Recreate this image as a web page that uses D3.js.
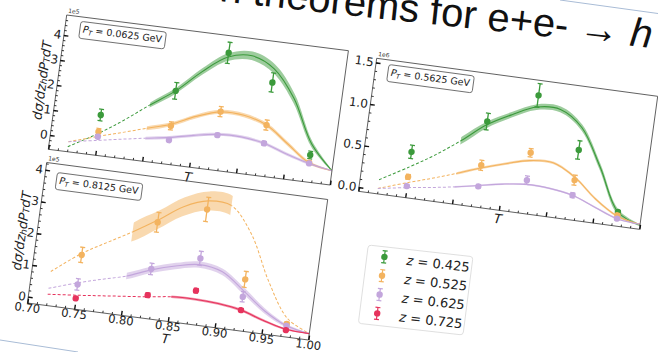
<!DOCTYPE html>
<html><head><meta charset="utf-8">
<script src="https://cdn.jsdelivr.net/npm/d3@7"></script>
<style>
html,body{margin:0;padding:0;background:#fff;overflow:hidden;}
svg{display:block;}
</style></head><body>
<svg id="c" width="658" height="352"></svg>
<script>
// T bin centres of the measured points
const binT = [0.75, 0.825, 0.875, 0.925, 0.975];
// T grid on which the fitted curves are tabulated
const curveT = [0.72, 0.75, 0.775, 0.80, 0.825, 0.85, 0.875, 0.90, 0.925, 0.95, 0.975, 1.00];
const xTicks = [0.70, 0.75, 0.80, 0.85, 0.90, 0.95, 1.00];
const zLabels = ["0.425", "0.525", "0.625", "0.725"];
const ptLabels = ["0.0625", "0.5625", "0.8125"];

// ---- P_T = 0.0625 GeV (units of 1e5)
const a_greenPts = [1.04, 2.36, 4.12, 3.17, 0.51];
const a_greenErr = [0.23, 0.33, 0.42, 0.38, 0.15];
const a_orangePts = [0.37, 0.96, 1.77, 1.47, 0.20];
const a_orangeErr = [0.13, 0.16, 0.20, 0.20, 0.06];
const a_purplePts = [0.17, 0.39, 0.83, 0.74, 0.175];
const a_purpleErr = [0.06, 0.06, 0.07, 0.08, 0.05];
const a_greenFit = [-0.37, 0.30, 0.95, 1.68, 2.36, 3.25, 3.95, 4.12, 3.72, 2.65, 0.95, 0.0];
const a_greenBand = [0, 0, 0, 0.10, 0.12, 0.14, 0.16, 0.17, 0.18, 0.18, 0.12, 0.03];
const a_orangeFit = [-0.17, 0.18, 0.46, 0.745, 1.03, 1.46, 1.76, 1.74, 1.47, 0.83, 0.20, 0.0];
const a_orangeBand = [0, 0, 0, 0.08, 0.08, 0.08, 0.08, 0.08, 0.08, 0.08, 0.06, 0.02];
const a_purpleFit = [-0.17, 0.025, 0.19, 0.35, 0.50, 0.70, 0.86, 0.88, 0.74, 0.43, 0.17, 0.0];
const a_purpleBand = [0, 0, 0, 0.06, 0.06, 0.06, 0.06, 0.06, 0.06, 0.06, 0.05, 0.02];

// ---- P_T = 0.5625 GeV (units of 1e6)
const b_greenPts = [0.50, 0.98, 1.37, 0.79, 0.12];
const b_greenErr = [0.08, 0.10, 0.14, 0.11, 0.02];
const b_orangePts = [0.20, 0.454, 0.68, 0.427, 0.08];
const b_orangeErr = [0.03, 0.06, 0.05, 0.06, 0.02];
const b_purplePts = [0.089, 0.20, 0.35, 0.246, 0.04];
const b_purpleErr = [0.015, 0.02, 0.05, 0.03, 0.015];
const b_greenFit = [0.12, 0.32, 0.50, 0.71, 0.94, 1.10, 1.23, 1.24, 1.06, 0.62, 0.12, 0.0];
const b_greenBand = [0, 0, 0, 0.045, 0.04, 0.035, 0.035, 0.035, 0.035, 0.035, 0.03, 0.01];
const b_orangeFit = [0.015, 0.13, 0.22, 0.317, 0.42, 0.51, 0.586, 0.597, 0.46, 0.235, 0.07, 0.01];
const b_orangeBand = [0, 0, 0, 0.015, 0.015, 0.015, 0.015, 0.015, 0.015, 0.015, 0.012, 0.005];
const b_purpleFit = [0.015, 0.07, 0.11, 0.156, 0.21, 0.265, 0.30, 0.29, 0.245, 0.14, 0.04, 0.01];
const b_purpleBand = [0, 0, 0, 0.01, 0.01, 0.01, 0.01, 0.01, 0.01, 0.01, 0.01, 0.005];

// ---- P_T = 0.8125 GeV (units of 1e5)
const c_orangePts = [1.51, 2.83, 3.43, 1.42, 0.21];
const c_orangeErr = [0.24, 0.31, 0.38, 0.25, 0.06];
const c_purplePts = [0.58, 1.36, 1.89, 0.87, 0.15];
const c_purpleErr = [0.18, 0.18, 0.22, 0.16, 0.05];
const c_redPts = [0.14, 0.535, 0.87, 0.45, 0.015];
const c_redErr = [0.05, 0.07, 0.07, 0.05, 0.02];
const c_orangeFit = [0.87, 1.56, 2.00, 2.43, 2.90, 3.42, 3.70, 3.65, 2.85, 1.45, 0.38, 0.01];
const c_orangeBand = [0, 0, 0, 0.30, 0.30, 0.30, 0.30, 0.30, 0.25, 0, 0, 0];
const c_purpleFit = [0.34, 0.63, 0.84, 1.04, 1.33, 1.55, 1.69, 1.56, 1.06, 0.52, 0.15, 0.0];
const c_purpleBand = [0, 0, 0, 0.10, 0.10, 0.10, 0.10, 0.10, 0.10, 0.08, 0.05, 0.02];
const c_redFit = [0.155, 0.24, 0.32, 0.40, 0.48, 0.58, 0.60, 0.56, 0.45, 0.22, 0.04, 0.0];
const c_redBand = [0, 0, 0, 0.04, 0.04, 0.04, 0.04, 0.04, 0.04, 0.04, 0.03, 0.01];

const colors = { green: "#3b9a3b", orange: "#f3b35f", purple: "#c3a6dc", red: "#e6335d" };
const FONT = "DejaVu Sans, sans-serif";

const svg = d3.select("#c");

// thin slide edges
svg.append("line").attr("x1", 560).attr("y1", 0).attr("x2", 658).attr("y2", 13.5)
  .attr("stroke", "#a9bcd6").attr("stroke-width", 1);
svg.append("line").attr("x1", 0).attr("y1", 340).attr("x2", 78).attr("y2", 352)
  .attr("stroke", "#a9bcd6").attr("stroke-width", 1);

// slide title (only its right end is in view)
const title = svg.append("text")
  .attr("transform", "translate(651,48) rotate(6.2)")
  .attr("text-anchor", "end")
  .attr("font-family", "Liberation Sans, Arial, sans-serif")
  .attr("font-size", 40).attr("fill", "#111");
title.append("tspan").text("n theorems for e+e- \u2192 ");
title.append("tspan").attr("font-style", "italic").text("h");

function frameMatrix(TL, U, V) {
  const W = Math.hypot(U[0], U[1]), H = Math.hypot(V[0], V[1]);
  return { W, H, m: `matrix(${U[0] / W},${U[1] / W},${V[0] / H},${V[1] / H},${TL[0]},${TL[1]})` };
}

function drawPanel(p) {
  const { W, H, m } = frameMatrix(p.TL, p.U, p.V);
  const g = svg.append("g").attr("transform", m);
  const x = d3.scaleLinear().domain([0.70, 1.00]).range([0, W]);
  const y = d3.scaleLinear().domain(p.ylim).range([H, 0]);
  const id = p.id;

  g.append("clipPath").attr("id", id + "-ax").append("rect").attr("width", W).attr("height", H);
  const plot = g.append("g").attr("clip-path", `url(#${id}-ax)`);

  const line = d3.line().x(d => x(d.t)).y(d => y(d.v)).curve(d3.curveCatmullRom.alpha(0.5));
  const area = d3.area().x(d => x(d.t)).y0(d => y(d.v - d.h)).y1(d => y(d.v + d.h))
    .curve(d3.curveCatmullRom.alpha(0.5));

  p.series.forEach((s, si) => {
    const pts = curveT.map((t, i) => ({ t, v: s.fit[i], h: s.band[i] }));
    const cs = `${id}-s${si}`, cd = `${id}-d${si}`;
    g.append("clipPath").attr("id", cs).append("rect")
      .attr("x", x(s.solid[0])).attr("y", -60)
      .attr("width", x(s.solid[1]) - x(s.solid[0])).attr("height", H + 120);
    const dc = g.append("clipPath").attr("id", cd);
    dc.append("rect").attr("x", -20).attr("y", -60).attr("width", x(s.solid[0]) + 20).attr("height", H + 120);
    if (s.solid[1] < 1) dc.append("rect").attr("x", x(s.solid[1])).attr("y", -60)
      .attr("width", W - x(s.solid[1]) + 20).attr("height", H + 120);
    const sg = plot.append("g");
    sg.append("path").attr("d", area(pts)).attr("fill", s.color).attr("fill-opacity", 0.5)
      .attr("clip-path", `url(#${cs})`);
    sg.append("path").attr("d", line(pts)).attr("fill", "none").attr("stroke", s.color)
      .attr("stroke-width", 1.1).attr("clip-path", `url(#${cs})`);
    sg.append("path").attr("d", line(pts)).attr("fill", "none").attr("stroke", s.color)
      .attr("stroke-width", 1).attr("stroke-dasharray", "3,2").attr("clip-path", `url(#${cd})`);
  });

  // measured points with error bars
  p.series.forEach(s => {
    const pg = plot.append("g").attr("stroke", s.color).attr("fill", s.color);
    binT.forEach((t, i) => {
      const v = s.pts[i], e = s.err[i];
      const cx = x(t);
      pg.append("line").attr("x1", cx).attr("x2", cx).attr("y1", y(v - e)).attr("y2", y(v + e)).attr("stroke-width", 1.3);
      [v - e, v + e].forEach(c => pg.append("line").attr("x1", cx - 2.5).attr("x2", cx + 2.5)
        .attr("y1", y(c)).attr("y2", y(c)).attr("stroke-width", 1.3));
      pg.append("circle").attr("cx", cx).attr("cy", y(v)).attr("r", 3.2).attr("stroke", "none");
    });
  });

  // axes box
  g.append("rect").attr("width", W).attr("height", H).attr("fill", "none")
    .attr("stroke", "#444").attr("stroke-width", 0.8);

  const xMinor = d3.range(70, 101).filter(d => d % 5 !== 0).map(d => d / 100);
  const xa = g.append("g").attr("transform", `translate(0,${H})`)
    .call(d3.axisBottom(x).tickValues(xTicks).tickSize(-4.5).tickSizeOuter(0).tickPadding(0.5)
      .tickFormat(p.xLabels ? d3.format(".2f") : () => ""));
  const xm = g.append("g").attr("transform", `translate(0,${H})`)
    .call(d3.axisBottom(x).tickValues(xMinor).tickSize(-2.2).tickSizeOuter(0).tickFormat(() => ""));
  const ya = g.append("g")
    .call(d3.axisLeft(y).tickValues(p.yTicks).tickSize(-4.5).tickSizeOuter(0).tickPadding(2.5)
      .tickFormat(d3.format(p.yFmt)));
  const ym = g.append("g")
    .call(d3.axisLeft(y).tickValues(p.yMinor).tickSize(-2.2).tickSizeOuter(0).tickFormat(() => ""));
  [xa, xm, ya, ym].forEach(a => a.select(".domain").remove());
  [xa, ya].forEach(a => a.selectAll(".tick line").attr("stroke", "#111").attr("stroke-width", 1.4));
  [xm, ym].forEach(a => a.selectAll(".tick line").attr("stroke", "#111").attr("stroke-width", 0.8));
  ya.selectAll("text").attr("font-family", FONT).attr("font-size", 12).attr("fill", "#222");
  xa.selectAll("text").attr("font-family", FONT).attr("font-size", 11.5).attr("fill", "#222");

  // offset (scale) text
  g.append("text").attr("x", 1).attr("y", -2.5).attr("font-family", FONT).attr("font-size", 6)
    .attr("fill", "#333").text(p.offset);

  // x label
  g.append("text").attr("x", W / 2).attr("y", H + p.xLabelDy).attr("text-anchor", "middle")
    .attr("dominant-baseline", "central").attr("font-family", FONT).attr("font-size", 13)
    .attr("font-style", "italic").attr("fill", "#222").text("T");

  // y label
  if (p.yLabel) {
    const yl = g.append("text").attr("transform", `translate(-16,${H / 2}) rotate(-90)`)
      .attr("text-anchor", "middle").attr("dominant-baseline", "central")
      .attr("font-family", FONT).attr("font-size", 13).attr("font-style", "italic").attr("fill", "#222");
    yl.append("tspan").text("d\u03c3/dz");
    yl.append("tspan").attr("font-size", 9).attr("dy", 2.5).text("h");
    yl.append("tspan").attr("dy", -2.5).text("dP");
    yl.append("tspan").attr("font-size", 9).attr("dy", 2.5).text("T");
    yl.append("tspan").attr("dy", -2.5).text("dT");
  }

  // P_T annotation
  const ag = g.append("g").attr("transform", `translate(${p.annot[0]},${p.annot[1]})`);
  const at = ag.append("text").attr("x", 4).attr("y", 10.5).attr("font-family", FONT)
    .attr("font-size", 9.5).attr("fill", "#222");
  at.append("tspan").attr("font-style", "italic").text("P");
  at.append("tspan").attr("font-size", 6.5).attr("font-style", "italic").attr("dy", 2).text("T");
  at.append("tspan").attr("dy", -2).text(" = " + p.pt + " GeV");
  const bb = at.node().getBBox();
  ag.insert("rect", "text").attr("x", bb.x - 3).attr("y", bb.y - 2).attr("width", bb.width + 6)
    .attr("height", bb.height + 4).attr("rx", 2.5).attr("fill", "#fff").attr("stroke", "#555")
    .attr("stroke-width", 0.8);
}

drawPanel({
  id: "pa", TL: [66.7, 15], U: [281.7, 35.7], V: [-18.4, 134.3],
  ylim: [-0.57, 4.8], yTicks: [0, 1, 2, 3, 4], yFmt: "d",
  yMinor: d3.range(-2, 24).map(d => d / 5), offset: "1e5", xLabels: false,
  xLabelDy: 10, yLabel: true, annot: [14, 5], pt: ptLabels[0],
  series: [
    { color: colors.green, pts: a_greenPts, err: a_greenErr, fit: a_greenFit, band: a_greenBand, solid: [0.80, 1.00] },
    { color: colors.orange, pts: a_orangePts, err: a_orangeErr, fit: a_orangeFit, band: a_orangeBand, solid: [0.80, 1.00] },
    { color: colors.purple, pts: a_purplePts, err: a_purpleErr, fit: a_purpleFit, band: a_purpleBand, solid: [0.80, 1.00] }
  ]
});

drawPanel({
  id: "pb", TL: [376.7, 58.3], U: [281, 38], V: [-18.3, 133],
  ylim: [-0.05, 1.55], yTicks: [0, 0.5, 1.0, 1.5], yFmt: ".1f",
  yMinor: d3.range(0, 16).map(d => d / 10), offset: "1e6", xLabels: false,
  xLabelDy: 8.5, yLabel: false, annot: [12, 5], pt: ptLabels[1],
  series: [
    { color: colors.green, pts: b_greenPts, err: b_greenErr, fit: b_greenFit, band: b_greenBand, solid: [0.80, 1.00] },
    { color: colors.orange, pts: b_orangePts, err: b_orangeErr, fit: b_orangeFit, band: b_orangeBand, solid: [0.80, 1.00] },
    { color: colors.purple, pts: b_purplePts, err: b_purpleErr, fit: b_purpleFit, band: b_purpleBand, solid: [0.80, 1.00] }
  ]
});

drawPanel({
  id: "pc", TL: [46.7, 162.5], U: [281, 37], V: [-19.3, 140.5],
  ylim: [-0.2, 4.23], yTicks: [0, 1, 2, 3, 4], yFmt: "d",
  yMinor: d3.range(-1, 22).map(d => d / 5), offset: "1e5", xLabels: true,
  xLabelDy: 17.5, yLabel: true, annot: [11, 9], pt: ptLabels[2],
  series: [
    { color: colors.orange, pts: c_orangePts, err: c_orangeErr, fit: c_orangeFit, band: c_orangeBand, solid: [0.80, 0.90] },
    { color: colors.purple, pts: c_purplePts, err: c_purpleErr, fit: c_purpleFit, band: c_purpleBand, solid: [0.80, 1.00] },
    { color: colors.red, pts: c_redPts, err: c_redErr, fit: c_redFit, band: c_redBand, solid: [0.85, 1.00] }
  ]
});

// legend
(function () {
  const { W, H, m } = frameMatrix([368.3, 245], [104.7, 11.7], [-10, 78.3]);
  const lg = svg.append("g").attr("transform", m);
  lg.append("rect").attr("width", W).attr("height", H).attr("rx", 3).attr("fill", "#fff")
    .attr("stroke", "#ddd").attr("stroke-width", 0.9);
  const keys = [colors.green, colors.orange, colors.purple, colors.red];
  const rowY = d3.scalePoint().domain(d3.range(keys.length)).range([10, 67]);
  keys.forEach((c, i) => {
    const yy = rowY(i);
    const e = lg.append("g").attr("stroke", c).attr("fill", c);
    e.append("line").attr("x1", 17.5).attr("x2", 17.5).attr("y1", yy - 6).attr("y2", yy + 6).attr("stroke-width", 1.2);
    [yy - 6, yy + 6].forEach(v => e.append("line").attr("x1", 15).attr("x2", 20).attr("y1", v).attr("y2", v).attr("stroke-width", 1.2));
    e.append("circle").attr("cx", 17.5).attr("cy", yy).attr("r", 3.2).attr("stroke", "none");
    const t = lg.append("text").attr("x", 40).attr("y", yy + 5.5).attr("font-family", FONT)
      .attr("font-size", 13).attr("fill", "#222");
    t.append("tspan").attr("font-style", "italic").text("z");
    t.append("tspan").text(" = " + zLabels[i]);
  });
})();
</script>
</body></html>
